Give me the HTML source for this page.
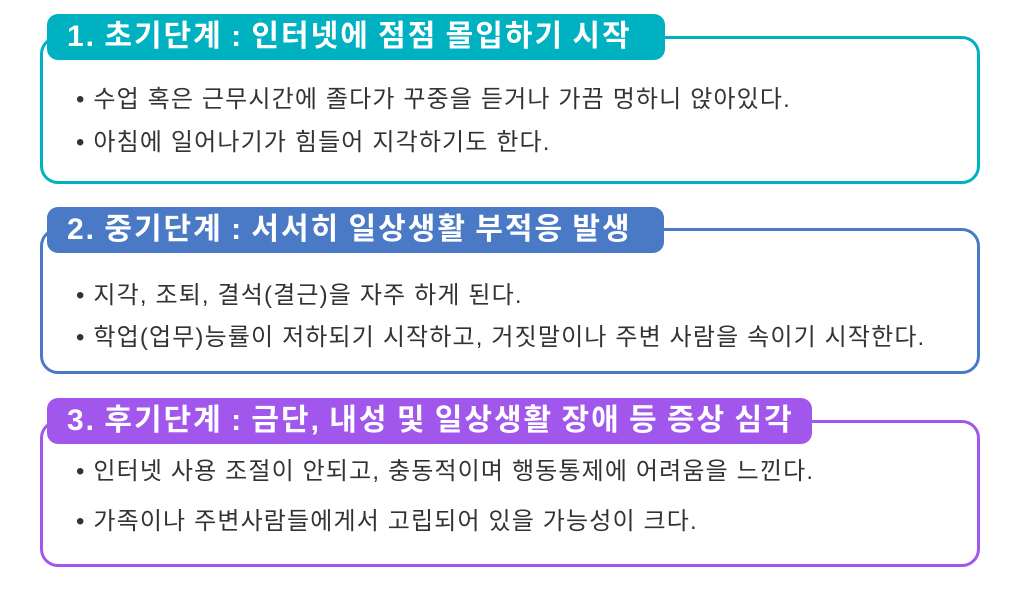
<!DOCTYPE html>
<html><head><meta charset="utf-8"><style>
body{margin:0;width:1017px;height:600px;background:#fff;position:relative;overflow:hidden;font-family:"Liberation Sans","Noto Sans CJK KR",sans-serif}
.box{position:absolute;left:40px;width:940px;border:3px solid;border-radius:18px;box-sizing:border-box;background:#fff}
.tab{position:absolute;left:47px;height:46px;border-radius:11px;color:#fff;font-weight:bold;font-size:30px;line-height:46px;padding-left:20px;box-sizing:border-box;letter-spacing:2px;word-spacing:-2px;white-space:nowrap}
.t{position:absolute;left:76px;font-size:24px;color:#333;white-space:nowrap;line-height:28px;letter-spacing:1.15px}
</style></head><body>
<div class="box" style="top:36px;height:148px;border-color:#00b1c2"></div>
<div class="tab" style="top:14px;width:618px;background:#00b1c2">1. 초기단계 : 인터넷에 점점 몰입하기 시작</div>
<div class="t" style="top:86px">• 수업 혹은 근무시간에 졸다가 꾸중을 듣거나 가끔 멍하니 앉아있다.</div>
<div class="t" style="top:129px">• 아침에 일어나기가 힘들어 지각하기도 한다.</div>

<div class="box" style="top:228px;height:146px;border-color:#4a7ac6"></div>
<div class="tab" style="top:207px;width:617px;background:#4a7ac6">2. 중기단계 : 서서히 일상생활 부적응 발생</div>
<div class="t" style="top:282px">• 지각, 조퇴, 결석(결근)을 자주 하게 된다.</div>
<div class="t" style="top:324px">• 학업(업무)능률이 저하되기 시작하고, 거짓말이나 주변 사람을 속이기 시작한다.</div>

<div class="box" style="top:420px;height:147px;border-color:#a257ec"></div>
<div class="tab" style="top:398px;width:765px;background:#a257ec">3. 후기단계 : 금단, 내성 및 일상생활 장애 등 증상 심각</div>
<div class="t" style="top:458px">• 인터넷 사용 조절이 안되고, 충동적이며 행동통제에 어려움을 느낀다.</div>
<div class="t" style="top:508px">• 가족이나 주변사람들에게서 고립되어 있을 가능성이 크다.</div>
</body></html>
